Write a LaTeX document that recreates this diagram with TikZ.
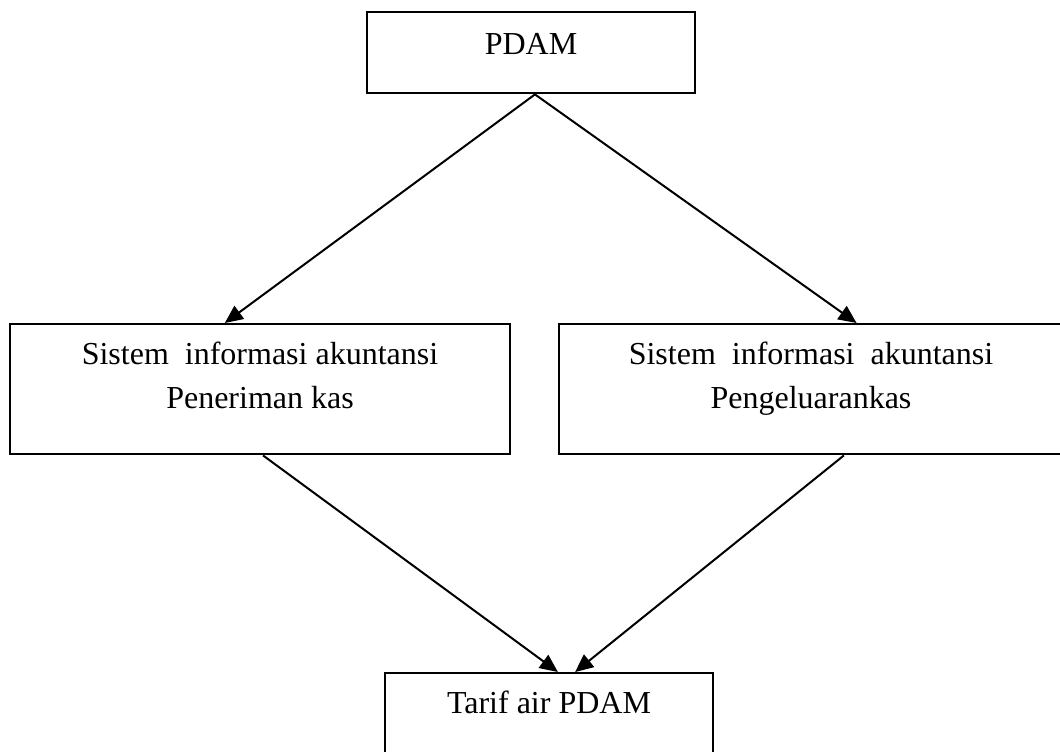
\documentclass[tikz,border=0pt]{standalone}
\usepackage{fontspec}
\setmainfont{Liberation Serif}
\usetikzlibrary{arrows.meta,calc}
\tikzset{
  kotak/.style={draw, line width=1.2pt, inner sep=0pt, anchor=north,
    font=\fontsize{16}{22}\selectfont},
  panah/.style={line width=1pt, -{Triangle[length=9pt,width=8pt]}}
}
\begin{document}
\begin{tikzpicture}[x=0.5pt,y=-0.5pt]
\useasboundingbox (0,0) rectangle (1060,751);

% kotak
\node[kotak, minimum width=164pt, text height=21pt, text depth=19.5pt] (pdam) at (531,11) {PDAM};
\node[kotak, minimum width=250pt, text height=20pt, text depth=45pt] (terima) at (260,323)
  {\parbox[t]{240pt}{\centering Sistem\hspace{0.5em}informasi akuntansi\\Peneriman kas}};
\node[kotak, minimum width=252pt, text height=20pt, text depth=45pt] (keluar) at (811,323)
  {\parbox[t]{240pt}{\centering Sistem\hspace{0.5em}informasi\hspace{0.5em}akuntansi\\Pengeluarankas}};
\node[kotak, minimum width=164pt, text height=20pt, text depth=25pt] (tarif) at (549,672) {Tarif air PDAM};

% panah
\draw[panah] ($(pdam.south west)!0.512!(pdam.south east)$) -- ($(terima.north west)!0.43!(terima.north east)$);
\draw[panah] ($(pdam.south west)!0.512!(pdam.south east)$) -- ($(keluar.north west)!0.59!(keluar.north east)$);
\draw[panah] ($(terima.south west)!0.506!(terima.south east)$) -- ($(tarif.north west)!0.527!(tarif.north east)$);
\draw[panah] ($(keluar.south west)!0.565!(keluar.south east)$) -- ($(tarif.north west)!0.579!(tarif.north east)$);
\end{tikzpicture}
\end{document}
